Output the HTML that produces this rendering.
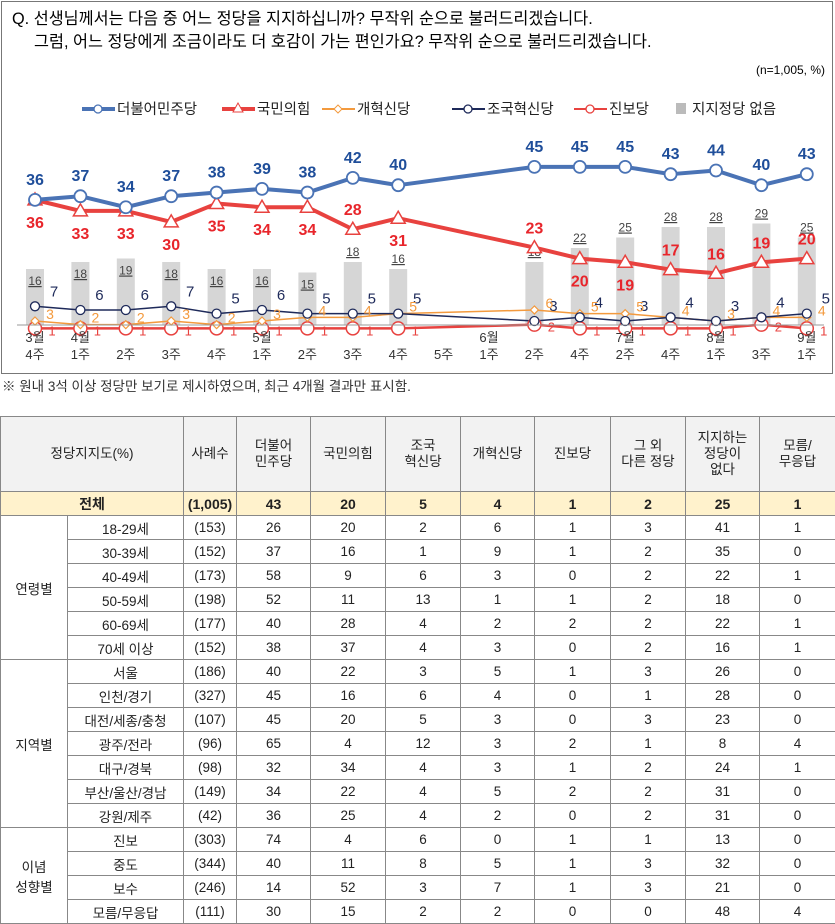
<!DOCTYPE html>
<html><head><meta charset="utf-8">
<style>
*{margin:0;padding:0;box-sizing:border-box}
body{width:835px;height:924px;background:#fff;font-family:"Liberation Sans","Noto Sans CJK KR",sans-serif;color:#222;position:relative;overflow:hidden}
#box{position:absolute;left:1px;top:1px;width:832px;height:373px;border:1px solid #777}
#note{position:absolute;left:2px;top:375px;font-size:13.5px;color:#333}
table{position:absolute;left:0;top:416px;width:835px;border-collapse:collapse;font-size:13.5px;text-align:center;table-layout:fixed}
td{border:1px solid #888;height:24px;padding:0}
thead td{background:#f2f2f2;height:75px;line-height:1.2}
tr.tot td{background:#fff2cc;font-weight:bold;font-size:14px}
td.grp{background:#fff}
</style></head><body>
<div id="box">
<svg id="chart" width="832" height="373" style="font-family:'Liberation Sans','Noto Sans CJK KR',sans-serif">
<text x="10" y="22" font-size="16.3">Q. 선생님께서는 다음 중 어느 정당을 지지하십니까? 무작위 순으로 불러드리겠습니다.</text>
<text x="32" y="45" font-size="16.3">그럼, 어느 정당에게 조금이라도 더 호감이 가는 편인가요? 무작위 순으로 불러드리겠습니다.</text>
<text x="823" y="72" font-size="12" text-anchor="end">(n=1,005, %)</text>
<g id="legend"></g>
<g id="bars"></g><g id="lines"></g><g id="xaxis"></g>
</svg>
</div>
<div id="note">※ 원내 3석 이상 정당만 보기로 제시하였으며, 최근 4개월 결과만 표시함.</div>
<table>
<colgroup><col style="width:67px"><col style="width:116px"><col style="width:53px"><col style="width:74px"><col style="width:75px"><col style="width:75px"><col style="width:74px"><col style="width:76px"><col style="width:75px"><col style="width:74px"><col style="width:76px"></colgroup>
<thead><tr>
<td colspan="2">정당지지도(%)</td><td>사례수</td><td>더불어<br>민주당</td><td>국민의힘</td><td>조국<br>혁신당</td><td>개혁신당</td><td>진보당</td><td>그 외<br>다른 정당</td><td>지지하는<br>정당이<br>없다</td><td>모름/<br>무응답</td></tr></thead>
<tbody id="tb"></tbody>
</table>
<script>
// ---- chart data ----
const categories=["3월 4주","4월 1주","2주","3주","4주","5월 1주","2주","3주","4주","5주","6월 1주","2주","4주","7월 2주","4주","8월 1주","3주","9월 1주"];
const minjoo=[36,37,34,37,38,39,38,42,40,null,null,45,45,45,43,44,40,43];
const ppp=[36,33,33,30,35,34,34,28,31,null,null,23,20,19,17,16,19,20];
const reform=[3,2,2,3,2,3,4,4,5,null,null,6,5,5,4,3,4,4];
const rebuild=[7,6,6,7,5,6,5,5,5,null,null,3,4,3,4,3,4,5];
const progressive=[1,1,1,1,1,1,1,1,1,null,null,2,1,1,1,1,2,1];
const noParty=[16,18,19,18,16,16,15,18,16,null,null,18,22,25,28,28,29,25];
const pppLabelAbove=[0,0,0,0,0,0,0,1,0,0,0,1,0,0,1,1,1,1];

const NS="http://www.w3.org/2000/svg";
function el(t,a,p){const e=document.createElementNS(NS,t);for(const k in a)e.setAttribute(k,a[k]);if(p)p.appendChild(e);return e;}
const X=i=>33+i*45.4;
const Y=v=>330-v*3.67;
const YB=v=>323-v*3.5;
const gB=document.getElementById('bars'),gL=document.getElementById('lines'),gX=document.getElementById('xaxis'),gLeg=document.getElementById('legend');

const ax=el('line',{x1:15,x2:822,y1:323,y2:323,stroke:'#999','stroke-width':1},gX);


categories.forEach((c,i)=>{
  const parts=c.split(' ');
  const wk=parts.length>1?parts[1]:parts[0];
  if(parts.length>1){const m=el('text',{x:X(i),y:340,'font-size':13,'text-anchor':'middle',fill:'#333'},gX);m.textContent=parts[0];
    
    }
  const t=el('text',{x:X(i),y:357,'font-size':13,'text-anchor':'middle',fill:'#333'},gX);t.textContent=wk;
  
  
});
noParty.forEach((v,i)=>{
  if(v==null)return;
  const r=el('rect',{x:X(i)-9,y:YB(v),width:18,height:323-YB(v),fill:'#d6d6d6'},gB);
  
  
  const ly=i<7?YB(v)+16:YB(v)-6;
  const t=el('text',{x:X(i),y:ly,'font-size':12,'text-anchor':'middle',fill:'#444','text-decoration':'underline'},gB);t.textContent=v;
  
  
});
function series(arr,color,w,name){
  const pts=[];arr.forEach((v,i)=>{if(v!=null)pts.push([X(i),Y(v)]);});
  const p=el('polyline',{points:pts.map(p=>p.join(',')).join(' '),fill:'none',stroke:color,'stroke-width':w,'stroke-linejoin':'round'},gL);
  
  
}
function markers(arr,color,name,marker,r,sw){
  arr.forEach((v,i)=>{if(v==null)return;const x=X(i),y=Y(v);let m;
    if(marker==='tri')m=el('polygon',{points:`${x},${y-7} ${x-7},${y+5} ${x+7},${y+5}`,fill:'#fff',stroke:color,'stroke-width':sw},gL);
    else if(marker==='dia')m=el('polygon',{points:`${x},${y-4} ${x+4},${y} ${x},${y+4} ${x-4},${y}`,fill:'#fff',stroke:color,'stroke-width':sw},gL);
    else m=el('circle',{cx:x,cy:y,r:r,fill:'#fff',stroke:color,'stroke-width':sw},gL);
    
    
  });
}
function labels(arr,color,name,fs,bold,dx,dy,fn){
  arr.forEach((v,i)=>{if(v==null)return;let ox=dx,oy=dy;if(fn){const o=fn(i);ox=o[0];oy=o[1];}
    const t=el('text',{x:X(i)+ox,y:Y(v)+oy,'font-size':fs,'font-weight':bold?'bold':'normal','text-anchor':'middle',fill:color},gL);t.textContent=v;
    
    });
}
series(progressive,'#e8423f',2.5,'progressive');
series(reform,'#f39a3e',1.5,'reform');
series(rebuild,'#1e2a5a',1.5,'rebuild');
series(ppp,'#e8423f',4,'ppp');
series(minjoo,'#4a73b5',4,'minjoo');
markers(progressive,'#e8423f','progressive','circle',6.5,1.5);
markers(reform,'#f39a3e','reform','dia',0,1.2);
markers(rebuild,'#1e2a5a','rebuild','circle',4.5,1.3);
markers(ppp,'#e8423f','ppp','tri',0,1.5);
markers(minjoo,'#4a73b5','minjoo','circle',6,1.8);
labels(minjoo,'#1f4e9a','minjoo',16,true,0,-15);
labels(ppp,'#e8252b','ppp',16,true,0,0,i=>pppLabelAbove[i]?[0,-14]:[0,28]);
labels(rebuild,'#1e2a5a','rebuild',15,false,19,-10);
labels(reform,'#f39a3e','reform',14,false,15,-2);
labels(progressive,'#e8423f','progressive',13,false,17,7);

const leg=[['더불어민주당','#4a73b5',80,'circle',4],['국민의힘','#e8423f',220,'tri',4],['개혁신당','#f39a3e',320,'dia',2],['조국혁신당','#1e2a5a',450,'circle',2],['진보당','#e8423f',572,'circle',2]];
leg.forEach(l=>{
  const g=el('g',{},gLeg);
  
  
  el('line',{x1:l[2],x2:l[2]+33,y1:107,y2:107,stroke:l[1],'stroke-width':l[4]},g);
  const cx=l[2]+16;
  if(l[3]==='tri')el('polygon',{points:`${cx},101 ${cx-5},110 ${cx+5},110`,fill:'#fff',stroke:l[1]},g);
  else if(l[3]==='dia')el('polygon',{points:`${cx},103 ${cx+4},107 ${cx},111 ${cx-4},107`,fill:'#fff',stroke:l[1]},g);
  else el('circle',{cx:cx,cy:107,r:4,fill:'#fff',stroke:l[1],'stroke-width':1.3},g);
  const t=el('text',{x:l[2]+35,y:112,'font-size':14.5,fill:'#222'},g);t.textContent=l[0];
});
{const g=el('g',{},gLeg);
 
 
 el('rect',{x:674,y:101,width:10,height:11,fill:'#bbb'},g);
 const t=el('text',{x:690,y:112,'font-size':14.5,fill:'#222'},g);t.textContent='지지정당 없음';}

const groups=[
 ['연령별',[['18-29세','(153)',26,20,2,6,1,3,41,1],['30-39세','(152)',37,16,1,9,1,2,35,0],['40-49세','(173)',58,9,6,3,0,2,22,1],['50-59세','(198)',52,11,13,1,1,2,18,0],['60-69세','(177)',40,28,4,2,2,2,22,1],['70세 이상','(152)',38,37,4,3,0,2,16,1]]],
 ['지역별',[['서울','(186)',40,22,3,5,1,3,26,0],['인천/경기','(327)',45,16,6,4,0,1,28,0],['대전/세종/충청','(107)',45,20,5,3,0,3,23,0],['광주/전라','(96)',65,4,12,3,2,1,8,4],['대구/경북','(98)',32,34,4,3,1,2,24,1],['부산/울산/경남','(149)',34,22,4,5,2,2,31,0],['강원/제주','(42)',36,25,4,2,0,2,31,0]]],
 ['이념<br>성향별',[['진보','(303)',74,4,6,0,1,1,13,0],['중도','(344)',40,11,8,5,1,3,32,0],['보수','(246)',14,52,3,7,1,3,21,0],['모름/무응답','(111)',30,15,2,2,0,0,48,4]]]
];
const tb=document.getElementById('tb');
let h='<tr class="tot"><td colspan="2">전체</td><td>(1,005)</td><td>43</td><td>20</td><td>5</td><td>4</td><td>1</td><td>2</td><td>25</td><td>1</td></tr>';
groups.forEach(g=>{g[1].forEach((r,j)=>{
  h+='<tr>';
  if(j===0)h+=`<td class="grp" rowspan="${g[1].length}">${g[0]}</td>`;
  h+=`<td>${r[0]}</td><td>${r[1]}</td>`;
  for(let k=2;k<10;k++)h+=`<td>${r[k]}</td>`;
  h+='</tr>';});});
tb.innerHTML=h;
</script>
</body></html>
